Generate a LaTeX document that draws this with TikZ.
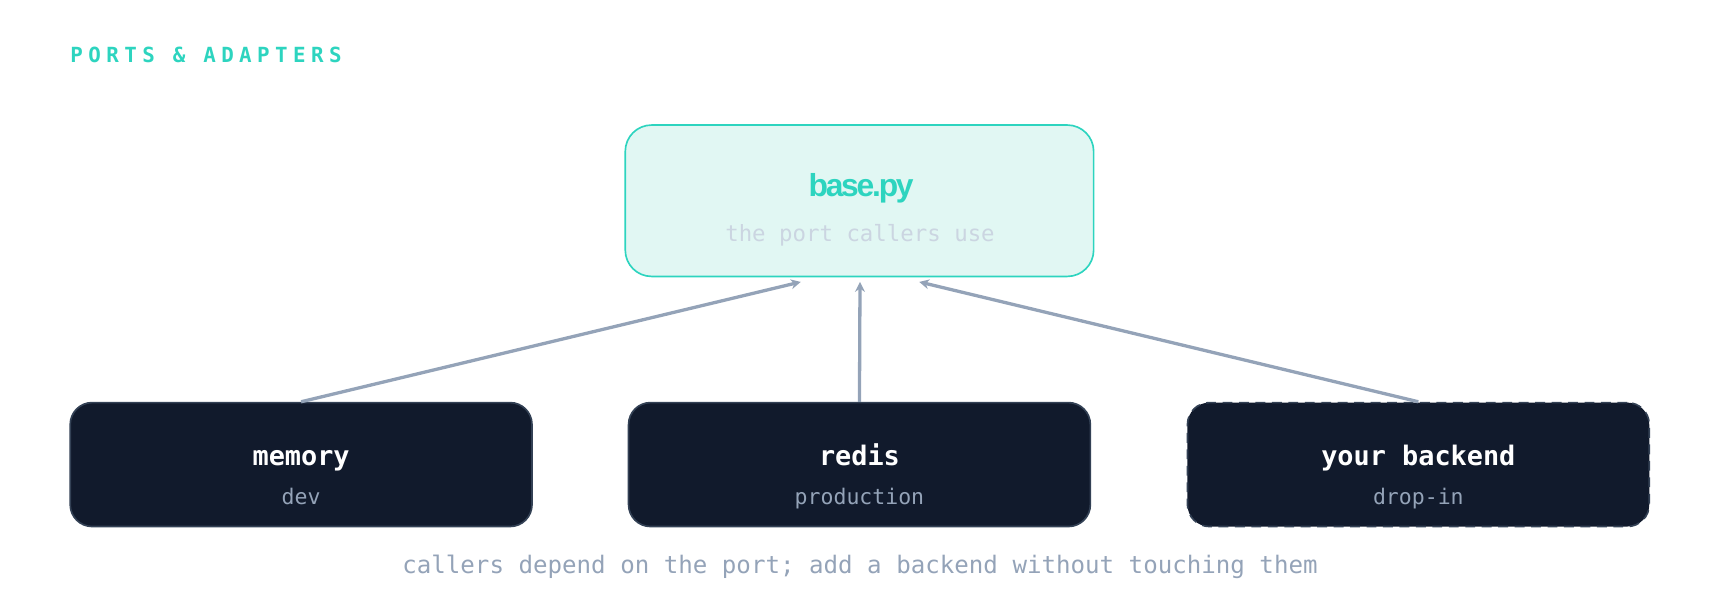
\documentclass[tikz,border=0pt]{standalone}
\usepackage{fontspec}
\setmonofont{DejaVu Sans Mono}
\newfontfamily\headsans{Liberation Sans}
\usetikzlibrary{arrows.meta}
\definecolor{teal}{HTML}{2DD4BF}
\definecolor{tealbg}{HTML}{E1F7F3}
\definecolor{dark}{HTML}{111A2C}
\definecolor{darkedge}{HTML}{334155}
\definecolor{slate}{HTML}{94A3B8}
\definecolor{light}{HTML}{CBD5E1}
\tikzset{
  adapter/.style={draw=darkedge,line width=1.5pt,fill=dark,rounded corners=20pt,minimum width=421pt,minimum height=113pt},
  port/.style={draw=teal,line width=1.5pt,fill=tealbg,rounded corners=24pt,minimum width=427pt,minimum height=138pt},
  ttl/.style={text=white,font=\ttfamily\bfseries\fontsize{24.5}{28}\selectfont},
  sub/.style={text=slate,font=\ttfamily\fontsize{19.6}{24}\selectfont},
  dep/.style={draw=slate,line width=3pt,-{Stealth[length=9pt,width=9pt]}}
}
\begin{document}
\begin{tikzpicture}[x=1pt,y=-1pt]
\useasboundingbox (0,0) rectangle (1568,552);
\node[anchor=base west,text=teal,inner sep=0,font=\ttfamily\bfseries\fontsize{19}{22}\selectfont\addfontfeatures{LetterSpace=26}] (title) at (64,57) {PORTS \& ADAPTERS};
\node[port] (base) at (783.5,183) {};
\node[text=teal,inner sep=0,anchor=base,font=\headsans\bfseries\fontsize{29}{32}\selectfont\addfontfeatures{LetterSpace=-7}] (bt) at (785,179) {base.py};
\node[text=light,inner sep=0,anchor=base,font=\ttfamily\fontsize{20.4}{24}\selectfont] (bs) at (784,220) {the port callers use};
\node[adapter] (mem) at (274.5,423.5) {};
\node[adapter] (red) at (783.5,423.5) {};
\node[adapter,dashed,dash pattern=on 9pt off 6pt] (yb) at (1293,423.5) {};
\node[ttl,anchor=base,inner sep=0] (memt) at (274.5,424) {memory};
\node[sub,anchor=base,inner sep=0] (mems) at (274.5,460) {dev};
\node[ttl,anchor=base,inner sep=0] (redt) at (783.5,424) {redis};
\node[sub,anchor=base,inner sep=0] (reds) at (783.5,460) {production};
\node[ttl,anchor=base,inner sep=0] (ybt) at (1293,424) {your backend};
\node[sub,anchor=base,inner sep=0] (ybs) at (1293,460) {drop-in};
\coordinate (t1) at (730,257);
\coordinate (t2) at (784,257);
\coordinate (t3) at (838,257);
\draw[dep] (mem.north) -- (t1);
\draw[dep] (red.north) -- (t2);
\draw[dep] (yb.north) -- (t3);
\node[text=slate,anchor=base,inner sep=0,font=\ttfamily\fontsize{22}{26}\selectfont] (cap) at (784,523) {callers depend on the port; add a backend without touching them};
\end{tikzpicture}
\end{document}
